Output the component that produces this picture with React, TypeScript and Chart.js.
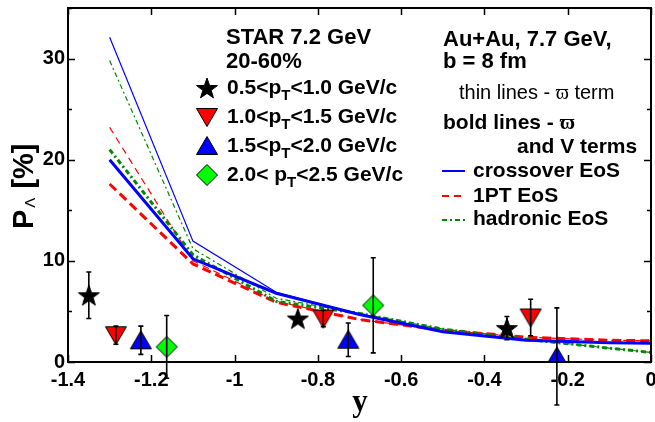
import React, { useEffect, useRef } from "react";
import { Chart, registerables } from "chart.js";
Chart.register(...registerables);

// Model curves (rapidity y vs polarization %)
const modelY = [-1.3, -1.1, -0.9, -0.7, -0.5, -0.3, -0.1, 0];
const crossoverThin = [32.1, 11.95, 6.9, 4.7, 3.0, 2.15, 1.9, 1.85];
const crossoverBold = [20.0, 10.2, 6.8, 4.7, 3.0, 2.15, 1.9, 1.85];
const firstOrderThin = [23.2, 10.0, 6.0, 4.2, 3.15, 2.45, 2.15, 2.1];
const firstOrderBold = [17.6, 9.7, 5.9, 4.2, 3.15, 2.45, 2.15, 2.1];
const hadronicThin = [29.8, 11.2, 6.3, 4.8, 3.25, 2.25, 1.37, 0.95];
const hadronicBold = [21.0, 10.6, 6.0, 4.8, 3.25, 2.25, 1.37, 0.95];

// STAR data points
const starX = [-1.35, -0.848, -0.346];
const starP = [6.6, 4.3, 3.35];
const starErr = [2.3, 0, 1.15];
const redX = [-1.285, -0.787, -0.289];
const redP = [2.65, 4.3, 4.4];
const redErr = [0.9, 0.8, 1.8];
const blueX = [-1.225, -0.727, -0.226];
const blueP = [2.15, 2.2, 0.55];
const blueErr = [1.4, 1.65, 4.8];
const greenX = [-1.163, -0.667];
const greenP = [1.5, 5.6];
const greenErr = [3.1, 4.7];

const xMin = -1.4;
const xMax = 0;
const xStep = 0.2;
const yMin = 0;
const yMax = 35;
const yStep = 10;
const yMinorStep = 5;

const SANS = "'Liberation Sans', Arial, sans-serif";
const SERIF = "'Liberation Serif', 'DejaVu Serif', 'Times New Roman', serif";

function makeMarker(kind: string, fill: string): HTMLCanvasElement {
  const c = document.createElement("canvas");
  c.width = 24;
  c.height = 24;
  const g = c.getContext("2d")!;
  g.fillStyle = fill;
  g.strokeStyle = "#000";
  g.lineWidth = 1;
  g.beginPath();
  const cx = 12, cy = 12;
  if (kind === "star") {
    for (let i = 0; i < 10; i++) {
      const r = i % 2 === 0 ? 11 : 4.4;
      const a = -Math.PI / 2 + (i * Math.PI) / 5;
      const px = cx + r * Math.cos(a);
      const py = cy + 1 + r * Math.sin(a);
      if (i === 0) g.moveTo(px, py);
      else g.lineTo(px, py);
    }
  } else if (kind === "down") {
    g.moveTo(cx - 10.5, cy - 8.5);
    g.lineTo(cx + 10.5, cy - 8.5);
    g.lineTo(cx, cy + 9.5);
  } else if (kind === "up") {
    g.moveTo(cx - 10.5, cy + 8.5);
    g.lineTo(cx + 10.5, cy + 8.5);
    g.lineTo(cx, cy - 9.5);
  } else {
    g.moveTo(cx, cy - 10.5);
    g.lineTo(cx + 10.5, cy);
    g.lineTo(cx, cy + 10.5);
    g.lineTo(cx - 10.5, cy);
  }
  g.closePath();
  g.fill();
  g.stroke();
  return c;
}

function pts(xs: number[], ys: number[]) {
  return xs.map((x, i) => ({ x, y: ys[i] }));
}

type Part = { t: string; sub?: boolean; serif?: boolean };
function drawRich(ctx: CanvasRenderingContext2D, parts: Part[], x: number, y: number, size: number, weight: string) {
  let cx = x;
  for (const p of parts) {
    const fam = p.serif ? SERIF : SANS;
    if (p.sub) {
      ctx.font = `${weight} ${Math.round(size * 0.72)}px ${fam}`;
      ctx.fillText(p.t, cx, y + size * 0.3);
    } else {
      ctx.font = `${weight} ${size}px ${fam}`;
      ctx.fillText(p.t, cx, y);
    }
    cx += ctx.measureText(p.t).width;
  }
}

export default function App() {
  const ref = useRef<HTMLCanvasElement>(null);
  useEffect(() => {
    const canvas = ref.current!;
    const mStar = makeMarker("star", "#000000");
    const mDown = makeMarker("down", "#ff0000");
    const mUp = makeMarker("up", "#0000ff");
    const mDia = makeMarker("diamond", "#00ff00");

    const errSets = [
      { xs: starX, ys: starP, es: starErr },
      { xs: redX, ys: redP, es: redErr },
      { xs: blueX, ys: blueP, es: blueErr },
      { xs: greenX, ys: greenP, es: greenErr },
    ];

    const framePlugin = {
      id: "frame",
      afterDatasetsDraw(chart: any) {
        const ctx = chart.ctx as CanvasRenderingContext2D;
        const xs = chart.scales.x;
        const ys = chart.scales.y;
        ctx.save();
        ctx.strokeStyle = "#000";
        ctx.lineWidth = 1.6;
        for (const s of errSets) {
          s.xs.forEach((xv, i) => {
            if (!s.es[i]) return;
            const px = xs.getPixelForValue(xv);
            const top = ys.getPixelForValue(s.ys[i] + s.es[i]);
            const bot = ys.getPixelForValue(s.ys[i] - s.es[i]);
            ctx.beginPath();
            ctx.moveTo(px, top);
            ctx.lineTo(px, bot);
            ctx.moveTo(px - 2.5, top);
            ctx.lineTo(px + 2.5, top);
            ctx.moveTo(px - 2.5, bot);
            ctx.lineTo(px + 2.5, bot);
            ctx.stroke();
          });
        }
        ctx.restore();
      },
      afterDraw(chart: any) {
        const ctx = chart.ctx as CanvasRenderingContext2D;
        const a = chart.chartArea;
        const xs = chart.scales.x;
        const ys = chart.scales.y;
        ctx.save();
        ctx.strokeStyle = "#000";
        ctx.lineWidth = 2;
        ctx.strokeRect(a.left, a.top, a.right - a.left, a.bottom - a.top);
        ctx.lineWidth = 1.5;
        ctx.beginPath();
        for (let v = xMin; v <= xMax + 1e-9; v += xStep) {
          const px = Math.round(xs.getPixelForValue(v)) + 0.5;
          ctx.moveTo(px, a.bottom);
          ctx.lineTo(px, a.bottom - 7);
          ctx.moveTo(px, a.top);
          ctx.lineTo(px, a.top + 7);
        }
        for (let v = yMin; v <= yMax + 1e-9; v += yMinorStep) {
          const py = Math.round(ys.getPixelForValue(v)) + 0.5;
          const len = Math.abs(v % yStep) < 1e-9 ? 7 : 4;
          ctx.moveTo(a.left, py);
          ctx.lineTo(a.left + len, py);
          ctx.moveTo(a.right, py);
          ctx.lineTo(a.right - len, py);
        }
        ctx.stroke();

        // axis titles
        ctx.fillStyle = "#000";
        ctx.textAlign = "center";
        ctx.textBaseline = "alphabetic";
        ctx.font = `bold 31px ${SERIF}`;
        ctx.fillText("y", 360, 411);

        ctx.save();
        ctx.translate(33, 229);
        ctx.rotate(-Math.PI / 2);
        ctx.textAlign = "left";
        ctx.font = `bold 29px ${SANS}`;
        ctx.fillText("P", 0, 0);
        let w = ctx.measureText("P").width + 2;
        ctx.font = `15px ${SANS}`;
        ctx.fillText("Λ", w, 2);
        w += ctx.measureText("Λ").width + 1;
        ctx.font = `bold 29px ${SANS}`;
        ctx.fillText(" [%]", w, 0);
        ctx.restore();

        // left legend
        ctx.textAlign = "left";
        ctx.font = `bold 22px ${SANS}`;
        ctx.fillText("STAR 7.2 GeV", 226, 44);
        ctx.fillText("20-60%", 226, 68);
        const rows: [HTMLCanvasElement, Part[], number][] = [
          [mStar, [{ t: "0.5<p" }, { t: "T", sub: true }, { t: "<1.0 GeV/c" }], 88],
          [mDown, [{ t: "1.0<p" }, { t: "T", sub: true }, { t: "<1.5 GeV/c" }], 117],
          [mUp, [{ t: "1.5<p" }, { t: "T", sub: true }, { t: "<2.0 GeV/c" }], 146],
          [mDia, [{ t: "2.0< p" }, { t: "T", sub: true }, { t: "<2.5 GeV/c" }], 175],
        ];
        for (const [img, parts, cy] of rows) {
          ctx.drawImage(img, 207 - 12, cy - 12);
          drawRich(ctx, parts, 227, cy + 6, 21, "bold");
        }

        // right legend
        ctx.font = `bold 22px ${SANS}`;
        ctx.fillText("Au+Au, 7.7 GeV,", 443, 46);
        ctx.fillText("b = 8 fm", 443, 68);
        drawRich(ctx, [{ t: "thin lines - " }, { t: "ϖ", serif: true }, { t: " term" }], 459, 99, 20, "normal");
        drawRich(ctx, [{ t: "bold lines - " }, { t: "ϖ", serif: true }], 443, 129, 21, "bold");
        ctx.font = `bold 21px ${SANS}`;
        ctx.fillText("and V terms", 517, 153);
        ctx.fillText("crossover EoS", 473, 177);
        ctx.fillText("1PT EoS", 473, 202);
        ctx.fillText("hadronic EoS", 473, 225);
        const samples: [string, number[], number][] = [
          ["#0000ff", [], 171],
          ["#ff0000", [7, 5], 196],
          ["#008800", [5, 3, 2, 3], 220],
        ];
        for (const [col, dash, sy] of samples) {
          ctx.strokeStyle = col;
          ctx.lineWidth = 2;
          ctx.setLineDash(dash);
          ctx.beginPath();
          ctx.moveTo(442, sy);
          ctx.lineTo(465, sy);
          ctx.stroke();
        }
        ctx.setLineDash([]);
        ctx.restore();
      },
    };

    const markerDs = (xs: number[], ys: number[], img: HTMLCanvasElement) => ({
      data: pts(xs, ys),
      showLine: false,
      pointStyle: img,
      pointRadius: 1,
      pointHoverRadius: 1,
      pointBorderWidth: 0,
      order: 0,
    });
    const lineDs = (ys: number[], color: string, width: number, dash: number[], order: number) => ({
      data: pts(modelY, ys),
      showLine: true,
      borderColor: color,
      borderWidth: width,
      borderDash: dash,
      pointRadius: 0,
      pointHoverRadius: 0,
      pointBorderWidth: 0,
      fill: false,
      tension: 0,
      order,
    });

    const chart = new Chart(canvas, {
      type: "scatter",
      data: {
        datasets: [
          markerDs(starX, starP, mStar),
          markerDs(redX, redP, mDown),
          markerDs(blueX, blueP, mUp),
          markerDs(greenX, greenP, mDia),
          lineDs(crossoverBold, "#0000ff", 3, [], 1),
          lineDs(hadronicBold, "#008800", 3, [5, 3, 2, 3], 2),
          lineDs(firstOrderBold, "#ff0000", 3, [9, 5], 3),
          lineDs(crossoverThin, "#0000ff", 1.2, [], 4),
          lineDs(hadronicThin, "#008800", 1.2, [5, 3, 2, 3], 5),
          lineDs(firstOrderThin, "#ff0000", 1.2, [7, 5], 6),
        ] as any,
      },
      plugins: [framePlugin],
      options: {
        animation: false,
        responsive: false,
        layout: { padding: { top: 8, right: 4, left: 0, bottom: 0 } },
        plugins: { legend: { display: false }, tooltip: { enabled: false } },
        scales: {
          x: {
            type: "linear",
            min: xMin,
            max: xMax,
            grid: { display: false, drawTicks: false },
            border: { display: false },
            ticks: {
              stepSize: xStep,
              padding: 6,
              color: "#000",
              font: { family: SANS, size: 20, weight: "bold" },
              callback: (v: any) => String(Math.round(Number(v) * 10) / 10),
            },
            afterFit: (s: any) => {
              s.height = 60;
              s.paddingLeft = 0;
              s.paddingRight = 0;
            },
          },
          y: {
            type: "linear",
            min: yMin,
            max: yMax,
            grid: { display: false, drawTicks: false },
            border: { display: false },
            ticks: {
              stepSize: yStep,
              includeBounds: false,
              padding: 3,
              color: "#000",
              font: { family: SANS, size: 20, weight: "bold" },
              callback: (v: any) => String(v),
            },
            afterFit: (s: any) => {
              s.width = 68;
              s.paddingTop = 0;
              s.paddingBottom = 0;
            },
          },
        },
      } as any,
    });
    return () => chart.destroy();
  }, []);
  return (
    <div style={{ position: "absolute", left: 0, top: 0, width: 655, height: 422, background: "#fff" }}>
      <canvas ref={ref} width={655} height={422} />
    </div>
  );
}
